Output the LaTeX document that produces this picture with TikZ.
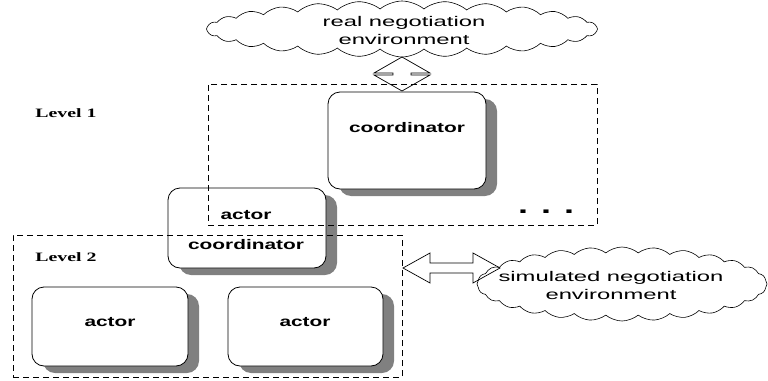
\documentclass[tikz,border=0pt]{standalone}
\usepackage{fontspec}
\setmainfont{Liberation Serif}
\newfontfamily\cloudfont[FakeStretch=1.7]{Liberation Sans}
\newfontfamily\boxfont[FakeStretch=1.5]{Liberation Sans Bold}
\newfontfamily\levelfont[FakeStretch=1.55]{Liberation Serif Bold}
\usetikzlibrary{shapes.symbols,shadows,calc}
\begin{document}
\begin{tikzpicture}[x=1pt,y=-1pt,
  agent/.style={draw=black, line width=0.8pt, fill=white, rounded corners=12pt,
    inner sep=0pt,
    drop shadow={shadow xshift=11pt, shadow yshift=-7pt, fill=black!50, opacity=1}},
  boxtext/.style={font=\boxfont\fontsize{13.9}{16}\selectfont, inner sep=0pt},
  grouprect/.style={draw, dash pattern=on 6pt off 4pt, line width=0.9pt, inner sep=0pt},
  envcloud/.style={cloud, draw, line width=0.6pt, cloud puffs=28, cloud puff arc=80,
    inner sep=0pt},
  cloudtext/.style={align=center, inner sep=0pt, font=\cloudfont\fontsize{14}{18}\selectfont},
  levellabel/.style={font=\levelfont\fontsize{12.8}{14}\selectfont, inner sep=0pt},
  dblarrow/.style={draw, line width=0.7pt, line join=miter}
]
\useasboundingbox (0,0) rectangle (768,380);

% boxes
\node[agent, minimum width=158pt, minimum height=97pt] (coord) at (407,140.5) {};
\node[boxtext] (coordtxt) at (407,127.5) {coordinator};

\node[agent, minimum width=158pt, minimum height=80pt] (actco) at (247,228) {};
\node[boxtext] (actcotxt1) at (246,215) {actor};
\node[boxtext] (actcotxt2) at (246,245) {coordinator};

\node[agent, minimum width=156pt, minimum height=79pt] (actorA) at (110,326.5) {};
\node[boxtext] (actorAtxt) at (110,322) {actor};

\node[agent, minimum width=155pt, minimum height=79pt] (actorB) at (305.5,326.5) {};
\node[boxtext] (actorBtxt) at (305,322) {actor};

% groups
\node[grouprect, minimum width=389pt, minimum height=141pt] (lev1) at (402.5,154.5) {};
\node[grouprect, minimum width=389pt, minimum height=142pt] (lev2) at (207.5,306) {};

\node[levellabel] (lev1lbl) at (66,113) {Level 1};
\node[levellabel] (lev2lbl) at (66,257) {Level 2};

\node[font=\boxfont\fontsize{24}{24}\selectfont, inner sep=0pt] (dots) at (546,212)
  {.\hspace{13pt}.\hspace{13pt}.};

% clouds
\node[envcloud, minimum width=391pt, minimum height=56pt, aspect=7] (realenv) at (402,29) {};
\node[cloudtext] (realtxt) at (404,30) {real negotiation\\environment};
\node[envcloud, minimum width=290pt, minimum height=74pt, aspect=3.9] (simenv) at (622,284) {};
\node[cloudtext] (simtxt) at (611,285) {simulated negotiation\\environment};

% double arrows
\coordinate (vt) at (402,57);
\coordinate (vb) at (402,91);
\draw[dblarrow] (vt) -- ($(vt)+(28,16)$) -- ($(vt)+(9,16)$) -- ($(vt)+(9,18)$)
  -- ($(vt)+(28,18)$) -- (vb) -- ($(vt)+(-28,18)$) -- ($(vt)+(-9,18)$)
  -- ($(vt)+(-9,16)$) -- ($(vt)+(-28,16)$) -- cycle;

\coordinate (ha) at (403,268);
\coordinate (hb) at (500,268);
\draw[dblarrow] (ha) -- ($(ha)+(27,-15)$) -- ($(ha)+(27,-5)$) -- ($(hb)+(-27,-5)$)
  -- ($(hb)+(-27,-15)$) -- (hb) -- ($(hb)+(-27,15)$) -- ($(hb)+(-27,5)$)
  -- ($(ha)+(27,5)$) -- ($(ha)+(27,15)$) -- cycle;
\end{tikzpicture}
\end{document}
